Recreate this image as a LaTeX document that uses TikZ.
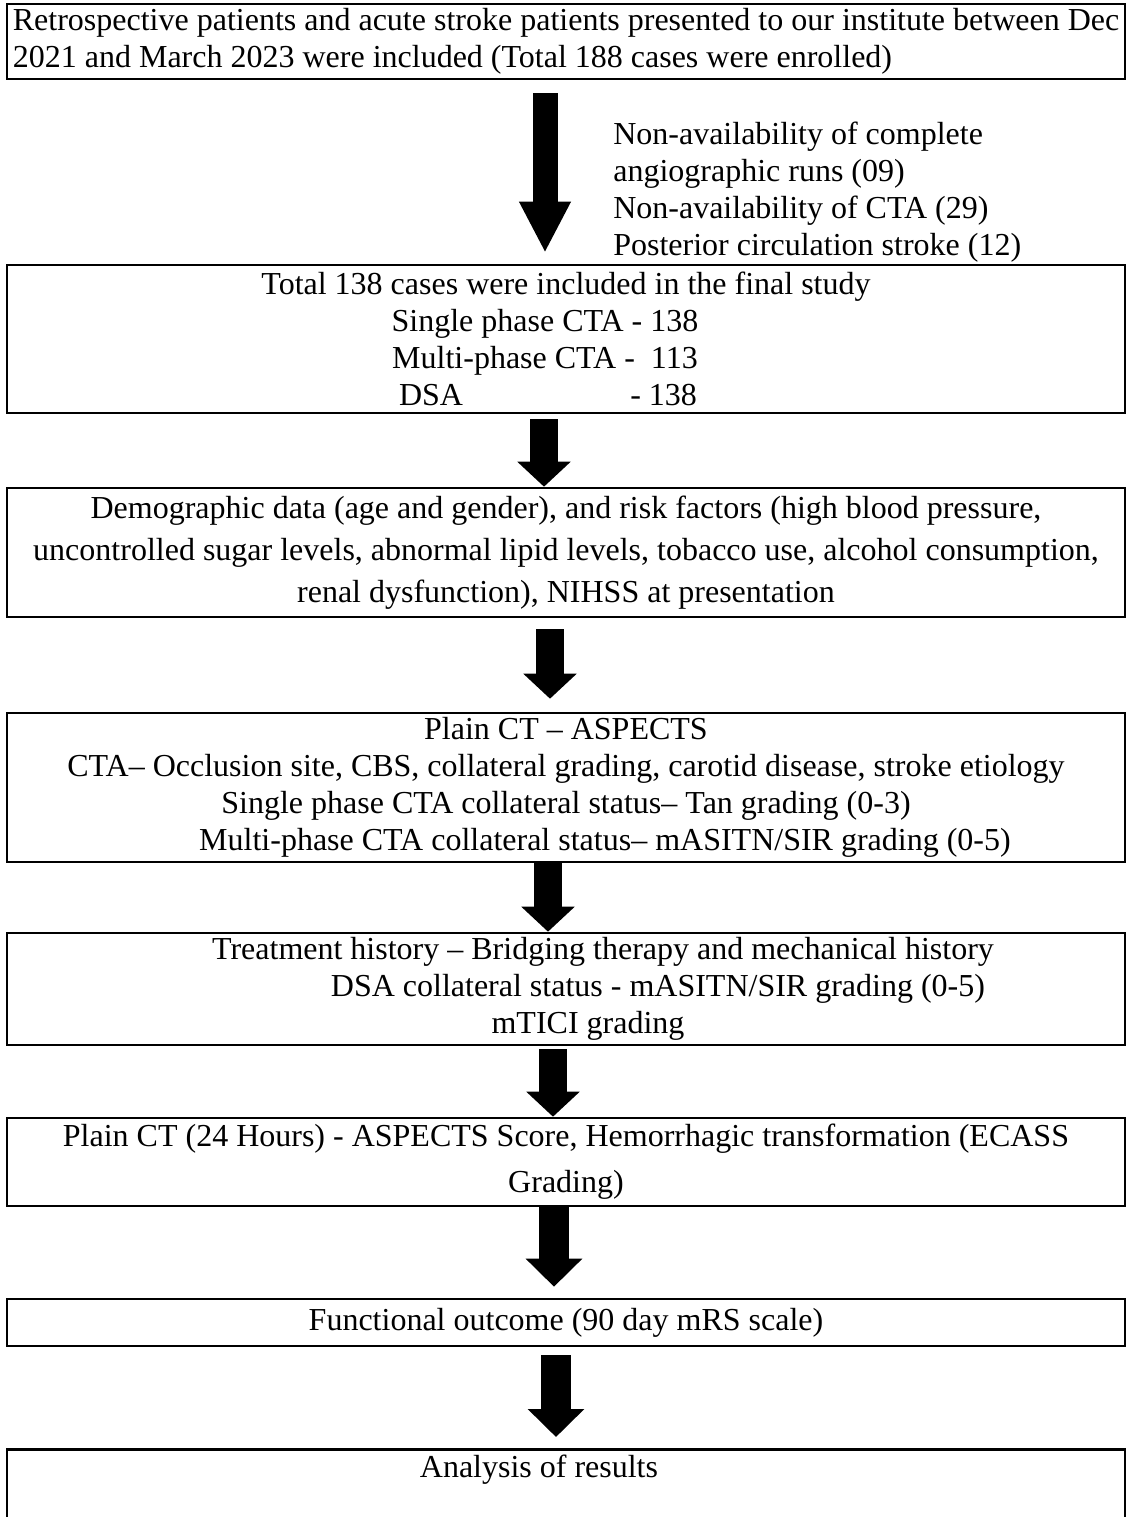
\documentclass[tikz,border=0pt]{standalone}
\usepackage{fontspec}
\setmainfont{Liberation Serif}
\usetikzlibrary{arrows.meta}
\begin{document}
\begin{tikzpicture}[x=0.5pt, y=-0.5pt,
        every node/.style={draw, line width=1.3pt, minimum width=559pt, inner xsep=1.5pt, inner ysep=0pt, align=center, font=\fontsize{16}{18.4}\selectfont},
        fat/.style={-{Triangle[width=26pt, length=12.5pt]}, line width=14pt},
        longfat/.style={-{Triangle[width=24pt, length=25.5pt]}, line width=12.5pt}]
        \useasboundingbox (0,0) rectangle (1130,1517);
        \clip (0,0) rectangle (1130,1517);
        \node[align=left, minimum height=37.5pt] (1) at (566, 41.5) {Retrospective patients and acute stroke patients presented to our institute between Dec\\2021 and March 2023 were included (Total 188 cases were enrolled)};
        \node[minimum height=74pt] (2) at (566, 339) {Total 138 cases were included in the final study\\\hspace*{-21pt}Single phase CTA - 138\\\hspace*{-21pt}Multi-phase CTA -\ \ 113\\\hspace*{-18pt}\makebox[149pt]{DSA\hfill- 138}};
        \node[draw=none, minimum width=0pt, inner sep=0pt, align=left, anchor=west] (0) at (612, 192) {Non-availability of complete\\angiographic runs (09)\\Non-availability of CTA (29)\\Posterior circulation stroke (12)};
        \node[minimum height=64.5pt] (3) at (566, 552.5) {Demographic data (age and gender), and risk factors (high blood pressure,\\[2.6pt]uncontrolled sugar levels, abnormal lipid levels, tobacco use, alcohol consumption,\\[2.6pt]renal dysfunction), NIHSS at presentation};
        \node[minimum height=74.5pt] (4) at (566, 787.5) {Plain CT – ASPECTS\\CTA– Occlusion site, CBS, collateral grading, carotid disease, stroke etiology\\Single phase CTA collateral status– Tan grading (0-3)\\\hspace*{39pt}Multi-phase CTA collateral status– mASITN/SIR grading (0-5)};
        \node[minimum height=56pt] (5) at (566, 989) {\hspace*{37pt}Treatment history – Bridging therapy and mechanical history\\\hspace*{92pt}DSA collateral status - mASITN/SIR grading (0-5)\\\hspace*{22pt}mTICI grading};
        \node[minimum height=44pt] (6) at (566, 1162) {Plain CT (24 Hours) - ASPECTS Score, Hemorrhagic transformation (ECASS\\[4.6pt]Grading)};
        \node[minimum height=23.5pt] (7) at (566, 1322.5) {Functional outcome (90 day mRS scale)};
        \node[anchor=north, inner ysep=3pt, text depth=60pt] (8) at (566, 1448) {\hspace*{-27pt}Analysis of results};
        \draw[longfat, shorten <=6.5pt, shorten >=5.5pt] ([xshift=-10.5pt]1.south) -- ([xshift=-10.5pt]2.north);
        \draw[fat, shorten <=2.5pt] ([xshift=-11pt]2.south) -- ([xshift=-11pt]3.north);
        \draw[fat, shorten <=5.5pt, shorten >=6.5pt] ([xshift=-8pt]3.south) -- ([xshift=-8pt]4.north);
        \draw[fat] ([xshift=-9pt]4.south) -- ([xshift=-9pt]5.north);
        \draw[fat, shorten <=1.5pt] ([xshift=-6.5pt]5.south) -- ([xshift=-6.5pt]6.north);
        \draw[fat, line width=15pt, -{Triangle[width=27.5pt, length=14pt]}, shorten >=5.5pt] ([xshift=-6pt]6.south) -- ([xshift=-6pt]7.north);
        \draw[fat, line width=15pt, -{Triangle[width=27.5pt, length=14pt]}, shorten <=4pt, shorten >=5.5pt] ([xshift=-5pt]7.south) -- ([xshift=-5pt]8.north);
    \end{tikzpicture}
\end{document}
